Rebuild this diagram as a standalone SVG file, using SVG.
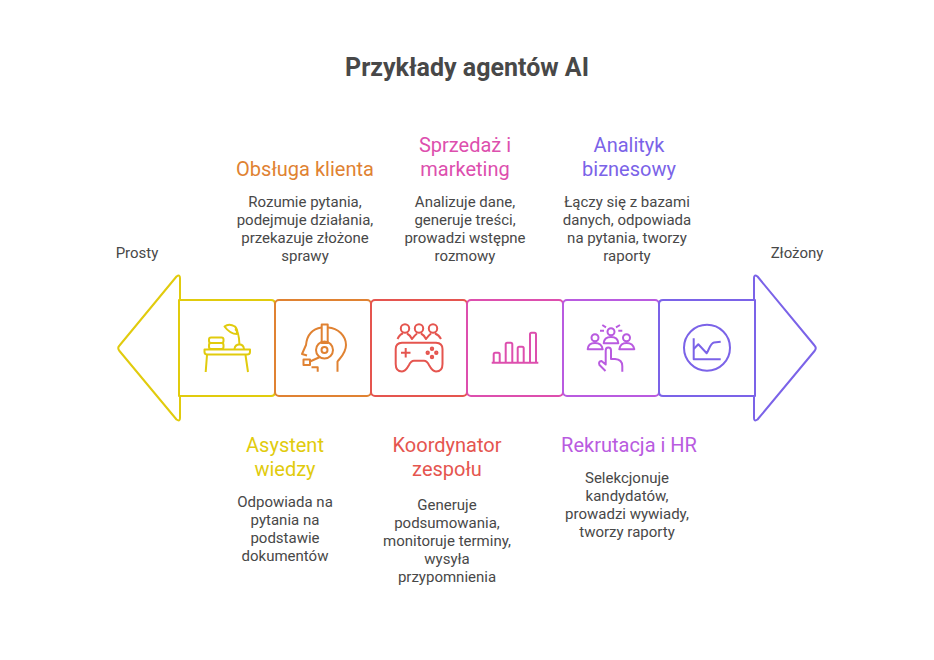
<svg xmlns="http://www.w3.org/2000/svg" width="934" height="660" viewBox="0 0 934 660">
<style>
text{font-family:Roboto,"Liberation Sans",sans-serif;text-anchor:middle}
.t{font-size:25px;font-weight:700;fill:#484848}
.h{font-size:20px}
.b{font-size:15px;fill:#484848}
.s{fill:none;stroke-width:2;stroke-linejoin:round;stroke-linecap:round}
.i{fill:none;stroke-width:2;stroke-linejoin:round}
.y{stroke:#e1cb0d}.o{stroke:#e08232}.r{stroke:#e5554f}.p{stroke:#dd4fae}.u{stroke:#b95be0}.v{stroke:#7b63e8}
</style>
<rect width="934" height="660" fill="#fff"/>
<text class="t" x="467" y="76">Przykłady agentów AI</text>
<text class="b" x="137" y="258">Prosty</text>
<text class="b" x="797" y="258">Złożony</text>
<g id="connectors"></g>
<g id="node-asystent">
<path class="s y" d="M180,300V278Q180,274 176.500,276.500L119.500,345.500Q117,348 119.500,351L176.500,419.500Q180,422 180,418V396"/>
<path class="s y" d="M179,300H271Q275,300 275,304V392Q275,396 271,396H179Z"/>
<g class="i y"><path d="M204.500,349.500H250V352Q250,354.500 247,354.500H207.500Q204.500,354.500 204.500,352Z"/><path d="M207,355L205.700,372M245.500,355L248,372"/><rect x="209" y="337.500" width="14.500" height="5.500" rx="2"/><rect x="209" y="343" width="14.500" height="6" rx="2"/><path d="M224.500,326.500Q229,323 235,326.500Q238,330 237,334Q230,334 224.500,326.500Z"/><path d="M235,329Q239,331 239.500,345"/><path d="M234.500,349Q235,344.500 239.500,344.500Q243.500,344.500 244,349"/></g>
<text class="h" x="285" y="452" fill="#e1cb0d">Asystent</text><text class="h" x="285" y="476" fill="#e1cb0d">wiedzy</text>
<text class="b" x="285"><tspan x="285" y="507">Odpowiada na</tspan><tspan x="285" y="525">pytania na</tspan><tspan x="285" y="543">podstawie</tspan><tspan x="285" y="561">dokumentów</tspan></text>
</g>
<g id="node-obsluga">
<rect class="s o" x="275" y="300" width="96" height="96" rx="4"/>
<g class="i o"><path d="M307,355.500L302,354L306,345C307,335 312,329 321.500,327.500M328,327.500C338,328 346,336 346,345C346,353 341,357 337.500,361.500V371.700"/><rect x="321.700" y="324.500" width="6" height="18.500"/><circle cx="324.500" cy="350" r="8.500"/><circle cx="324.500" cy="350" r="3"/><path d="M320,357L310,361.500"/><rect x="303.500" y="359.500" width="6.500" height="5.500"/><path d="M311.500,367.300H317.700V371.700"/></g>
<text class="h" x="305" y="176" fill="#e08232">Obsługa klienta</text>
<text class="b"><tspan x="305" y="207">Rozumie pytania,</tspan><tspan x="305" y="225">podejmuje działania,</tspan><tspan x="305" y="243">przekazuje złożone</tspan><tspan x="305" y="261">sprawy</tspan></text>
</g>
<g id="node-koordynator">
<rect class="s r" x="371" y="300" width="96" height="96" rx="4"/>
<g class="i r"><circle cx="405" cy="328.500" r="4.200"/><circle cx="419" cy="328.500" r="4.200"/><circle cx="433" cy="328.500" r="4.200"/><path d="M397.500,339Q400,334 403,333.500M407,333.500Q410,335 412,339Q415,335 417,333.500M421,333.500Q424,335 426,339Q429,335 431,333.500M435,333.500Q439,335 441,339"/><path d="M402,342.700H436Q442.500,343 442.500,349V364Q442.500,371.500 436,371.500Q432.500,371.500 429,365Q427,360.700 424,360.700H414Q411,360.700 409,365Q405.500,371.500 402,371.500Q395.700,371.500 395.700,364V349Q395.700,343 402,342.700Z"/><path d="M401,352.700H410.500M405.700,348V357.500"/><circle cx="432" cy="348.700" r="1.200"/><circle cx="432" cy="357" r="1.200"/><circle cx="427.700" cy="352.700" r="1.200"/><circle cx="436.300" cy="352.700" r="1.200"/></g>
<text class="h" x="447" y="452" fill="#e5554f">Koordynator</text><text class="h" x="447" y="476" fill="#e5554f">zespołu</text>
<text class="b"><tspan x="447" y="510">Generuje</tspan><tspan x="447" y="528">podsumowania,</tspan><tspan x="447" y="546">monitoruje terminy,</tspan><tspan x="447" y="564">wysyła</tspan><tspan x="447" y="582">przypomnienia</tspan></text>
</g>
<g id="node-sprzedaz">
<rect class="s p" x="467" y="300" width="96" height="96" rx="4"/>
<g class="i p"><path d="M491.700,362.700H538.300"/><path d="M493.700,362.700V354.200Q493.700,352.700 495.200,352.700H498.200Q499.700,352.700 499.700,354.200V362.700"/><path d="M505.700,362.700V344.200Q505.700,342.700 507.200,342.700H510.800Q512.300,342.700 512.300,344.200V362.700"/><path d="M517.700,362.700V348.200Q517.700,346.700 519.200,346.700H522.200Q523.700,346.700 523.700,348.200V362.700"/><path d="M530,362.700V334.200Q530,332.700 531.500,332.700H534.500Q536,332.700 536,334.200V362.700"/></g>
<text class="h" x="465" y="152" fill="#dd4fae">Sprzedaż i</text><text class="h" x="465" y="176" fill="#dd4fae">marketing</text>
<text class="b"><tspan x="465" y="207">Analizuje dane,</tspan><tspan x="465" y="225">generuje treści,</tspan><tspan x="465" y="243">prowadzi wstępne</tspan><tspan x="465" y="261">rozmowy</tspan></text>
</g>
<g id="node-rekrutacja">
<rect class="s u" x="563" y="300" width="96" height="96" rx="4"/>
<g class="i u"><circle cx="611" cy="331.700" r="3.500"/><path d="M603.700,343.300C604,339 607,337 611,337C615,337 618,339 618.300,343.300Z"/><circle cx="595" cy="337.700" r="3.500"/><path d="M587.700,349.300C588,345 591,343 595,343C599,343 602,345 602.700,349.300Z"/><circle cx="626.500" cy="337.700" r="3.500"/><path d="M619.300,349.300C620,345 623,343 626.500,343C630,343 633.500,345 634.300,349.300Z"/><path d="M600,330.700H604M602.300,325L606,327.300M620,325L616,327.300M618.300,330.700H622.300"/><path d="M605.500,371L599.500,365Q598,361.500 601.500,361L605.700,364.500V350.500Q605.700,347.500 608.300,347.500Q611,347.500 611,350.500V359H615Q622.300,359.500 622.300,366V371.700"/></g>
<text class="h" x="629" y="452" fill="#b95be0">Rekrutacja i HR</text>
<text class="b"><tspan x="627" y="483">Selekcjonuje</tspan><tspan x="627" y="501">kandydatów,</tspan><tspan x="627" y="519">prowadzi wywiady,</tspan><tspan x="627" y="537">tworzy raporty</tspan></text>
</g>
<g id="node-analityk">
<path class="s v" d="M754,300V278Q754,274 757.500,276.500L814.500,345.500Q817,348 814.500,351L757.500,419.500Q754,422 754,418V396"/>
<path class="s v" d="M755,300H663Q659,300 659,304V392Q659,396 663,396H755Z"/>
<g class="i v"><circle cx="707" cy="347.700" r="23"/><path d="M693.700,338.300V359.300H720.700"/><path d="M693.700,349L698.300,344.300L706.700,353.300C709,350 710,343.500 714,342.500L720.700,341.700"/></g>
<text class="h" x="629" y="152" fill="#7b63e8">Analityk</text><text class="h" x="629" y="176" fill="#7b63e8">biznesowy</text>
<text class="b"><tspan x="627" y="207">Łączy się z bazami</tspan><tspan x="627" y="225">danych, odpowiada</tspan><tspan x="627" y="243">na pytania, tworzy</tspan><tspan x="627" y="261">raporty</tspan></text>
</g>
</svg>
